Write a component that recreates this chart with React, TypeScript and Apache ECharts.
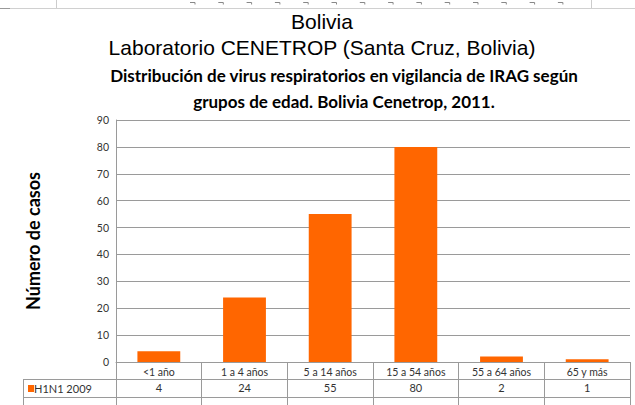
import React, { useEffect, useRef } from "react";
import * as echarts from "echarts";

const categories = ["<1 año", "1 a 4 años", "5 a 14 años", "15 a 54 años", "55 a 64 años", "65 y más"];
const values = [4, 24, 55, 80, 2, 1];
const seriesName = "H1N1 2009";
const yMin = 0;
const yMax = 90;
const yInterval = 10;
const titleLines = ["Bolivia", "Laboratorio CENETROP (Santa Cruz, Bolivia)"];
const chartTitleLines = [
  "Distribución de virus respiratorios en vigilancia de IRAG según",
  "grupos de edad. Bolivia Cenetrop, 2011.",
];
const yAxisName = "Número de casos";

const BAR = "#FF6600";
const GRID_C = "#9a9a9a";
const SMALL_FONT = "Lato";

export default function App() {
  const ref = useRef<HTMLDivElement>(null);
  useEffect(() => {
    if (!ref.current) return;
    const chart = echarts.init(ref.current, undefined, { renderer: "svg" });
    const topMarks: any[] = [];
    for (let i = 0; i < 14; i++) {
      const x = 190 + i * 28.3;
      topMarks.push({
        type: "polyline",
        shape: { points: [[x, 2.5], [x + 5, 2.5], [x + 5, 4.5]] },
        style: { stroke: "#888", lineWidth: 1, fill: null },
      });
    }
    chart.setOption({
      animation: false,
      backgroundColor: "#fff",
      grid: { left: 116, right: 5, top: 120, bottom: 43, containLabel: false },
      xAxis: [
        {
          type: "category",
          data: categories,
          position: "bottom",
          axisLine: { show: true, lineStyle: { color: GRID_C } },
          axisTick: { show: true, length: 17, lineStyle: { color: GRID_C } },
          axisLabel: { interval: 0, margin: 4, fontSize: 10.5, color: "#333", fontFamily: SMALL_FONT },
        },
        {
          type: "category",
          data: values.map(String),
          position: "bottom",
          offset: 17,
          axisLine: { show: true, lineStyle: { color: GRID_C } },
          axisTick: { show: true, length: 26, lineStyle: { color: GRID_C } },
          axisLabel: { interval: 0, margin: 3, fontSize: 11, color: "#333", fontFamily: SMALL_FONT },
        },
      ],
      yAxis: {
        type: "value",
        min: yMin,
        max: yMax,
        interval: yInterval,
        axisLine: { show: true, lineStyle: { color: GRID_C } },
        axisTick: { show: false },
        splitLine: { show: true, lineStyle: { color: GRID_C } },
        axisLabel: { margin: 7, fontSize: 10.5, color: "#333", fontFamily: SMALL_FONT },
        name: yAxisName,
        nameLocation: "middle",
        nameGap: 74,
        nameTextStyle: { fontSize: 18, fontWeight: "bold", color: "#000", fontFamily: "Lato" },
      },
      series: [
        {
          type: "bar",
          name: seriesName,
          data: values,
          xAxisIndex: 0,
          barWidth: "50%",
          itemStyle: { color: BAR },
        },
      ],
      graphic: [
        { type: "line", shape: { x1: 0, y1: 8.5, x2: 635, y2: 8.5 }, style: { stroke: "#d0d0d0", lineWidth: 1 } },
        { type: "line", shape: { x1: 0, y1: 8.5, x2: 10, y2: 8.5 }, style: { stroke: "#999", lineWidth: 1 } },
        { type: "line", shape: { x1: 56.5, y1: 0, x2: 56.5, y2: 8 }, style: { stroke: "#ccc", lineWidth: 1 } },
        { type: "line", shape: { x1: 591.5, y1: 0, x2: 591.5, y2: 8 }, style: { stroke: "#ccc", lineWidth: 1 } },
        ...topMarks,
        {
          type: "text",
          x: 322,
          y: 21,
          style: { text: titleLines[0], textAlign: "center", textVerticalAlign: "middle", font: '21px "Liberation Sans"', fill: "#000" },
        },
        {
          type: "text",
          x: 322,
          y: 47,
          style: { text: titleLines[1], textAlign: "center", textVerticalAlign: "middle", font: '21px "Liberation Sans"', fill: "#000" },
        },
        {
          type: "text",
          x: 344,
          y: 75,
          style: { text: chartTitleLines[0], textAlign: "center", textVerticalAlign: "middle", font: 'bold 17px "Lato"', fill: "#000" },
        },
        {
          type: "text",
          x: 344,
          y: 101,
          style: { text: chartTitleLines[1], textAlign: "center", textVerticalAlign: "middle", font: 'bold 17px "Lato"', fill: "#000" },
        },
        { type: "line", shape: { x1: 23, y1: 379.5, x2: 116, y2: 379.5 }, style: { stroke: GRID_C, lineWidth: 1 } },
        { type: "line", shape: { x1: 23.5, y1: 379, x2: 23.5, y2: 405 }, style: { stroke: GRID_C, lineWidth: 1 } },
        { type: "line", shape: { x1: 23, y1: 397.5, x2: 630, y2: 397.5 }, style: { stroke: GRID_C, lineWidth: 1 } },
        { type: "rect", shape: { x: 28, y: 385, width: 6, height: 7 }, style: { fill: BAR } },
        {
          type: "text",
          x: 34,
          y: 388.5,
          style: { text: seriesName, textAlign: "left", textVerticalAlign: "middle", font: `11px "${SMALL_FONT}"`, fill: "#333" },
        },
      ],
    });
    return () => chart.dispose();
  }, []);
  return <div ref={ref} style={{ position: "absolute", left: 0, top: 0, width: 635, height: 405 }} />;
}
